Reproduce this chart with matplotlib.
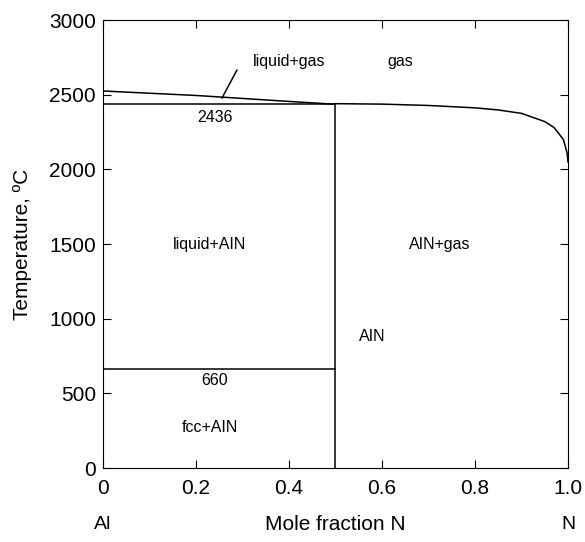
import numpy as np
import matplotlib.pyplot as plt

plt.rcParams['font.family'] = ['Liberation Sans', 'DejaVu Sans']

# liquidus (liquid / liquid+gas) from Al side to AlN
liq_x = [0.0, 0.1, 0.2, 0.3, 0.4, 0.5]
liq_y = [2525, 2510, 2495, 2475, 2455, 2436]

# gas boundary (AlN+gas / gas)
gas_x = [0.5, 0.6, 0.7, 0.8, 0.85, 0.9, 0.95, 0.97, 0.99, 0.998, 1.0]
gas_y = [2440, 2437, 2428, 2412, 2398, 2375, 2320, 2280, 2200, 2110, 2050]

# invariant lines
inv_T = [2436, 660]
aln_x = 0.5

labels = [
    ("liquid+gas", 0.40, 2720),
    ("gas", 0.64, 2720),
    ("2436", 0.24, 2350),
    ("liquid+AIN", 0.23, 1500),
    ("AIN+gas", 0.725, 1500),
    ("AIN", 0.58, 880),
    ("660", 0.24, 585),
    ("fcc+AIN", 0.23, 270),
]

fig = plt.figure(figsize=(5.85, 5.42), dpi=100)
ax = fig.add_axes([0.176, 0.1365, 0.795, 0.8265])

ax.plot(liq_x, liq_y, color='black', lw=1.1)
ax.plot(gas_x, gas_y, color='black', lw=1.1)
for T in inv_T:
    ax.plot([0, aln_x], [T, T], color='black', lw=1.1)
ax.plot([aln_x, aln_x], [0, inv_T[0]], color='black', lw=1.1)

for txt, x, y in labels:
    ax.text(x, y, txt, ha='center', va='center', fontsize=11.5)

# leader line to liquid+gas region
ax.plot([0.288, 0.256], [2665, 2478], color='black', lw=1.1)

ax.set_xlim(0, 1.0)
ax.set_ylim(0, 3000)
ax.set_xticks([0, 0.2, 0.4, 0.6, 0.8, 1.0])
ax.set_xticklabels(['0', '0.2', '0.4', '0.6', '0.8', '1.0'])
ax.set_yticks(np.arange(0, 3001, 500))
ax.tick_params(direction='in', top=True, right=True, labelsize=15, length=6, pad=8)
ax.tick_params(axis='y', pad=5)

ax.set_xlabel('Mole fraction N', fontsize=15, labelpad=12)
ax.set_ylabel('Temperature, ºC', fontsize=15, labelpad=12)
ax.text(0, -0.125, 'Al', transform=ax.transAxes, ha='center', va='center', fontsize=14)
ax.text(1.0, -0.125, 'N', transform=ax.transAxes, ha='center', va='center', fontsize=14)

fig.savefig('out.png', dpi=100)
